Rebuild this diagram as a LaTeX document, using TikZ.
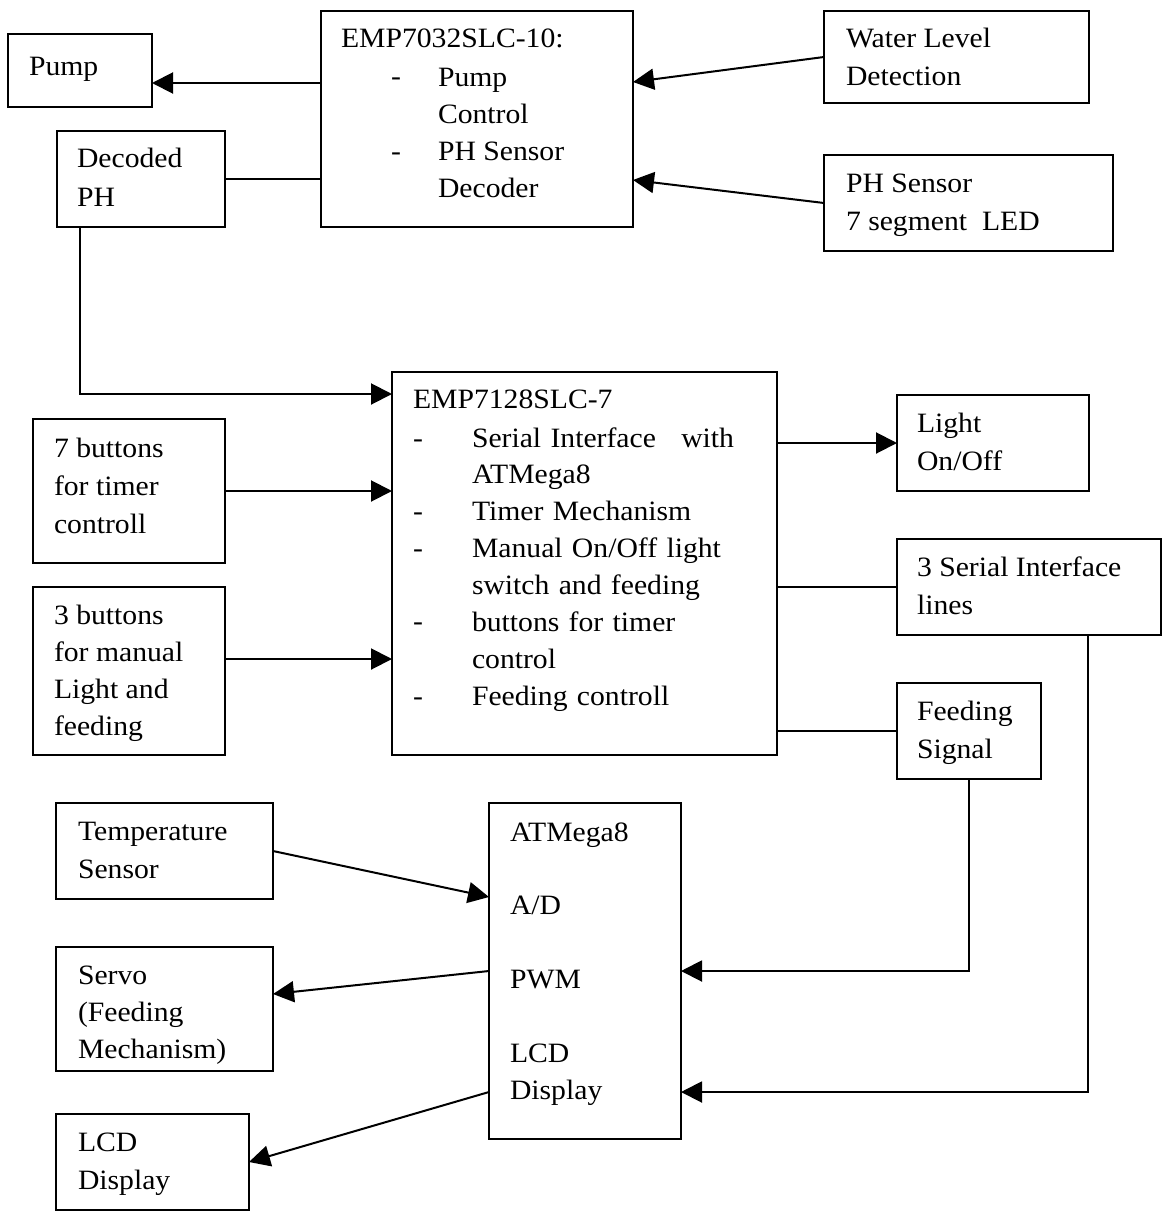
\documentclass[tikz,border=0pt]{standalone}
\usepackage{fontspec}
\setmainfont{Liberation Serif}[FakeStretch=1.06]
\usetikzlibrary{arrows.meta,calc}
\tikzset{
  box/.style={draw, line width=2pt, anchor=north west, inner sep=0pt, outer sep=0pt},
  txt/.style={anchor=base west, inner sep=0pt, outer sep=0pt, align=left, font=\fontsize{28}{37.3}\selectfont},
  conn/.style={line width=2pt},
  arr/.style={conn, -{Triangle[length=21pt,width=21pt]}},
}
\newcommand\mkbox[5]{\node[box, minimum width={(#4)-(#2)}, minimum height={(#5)-(#3)}] (#1) at (#2,#3) {};}
\begin{document}
\begin{tikzpicture}[x=1pt,y=-1pt]
\useasboundingbox[fill=white] (0,0) rectangle (1164,1212);
% boxes
\mkbox{pump}{8}{34}{152}{107}
\mkbox{emp1}{321}{11}{633}{227}
\mkbox{dph}{57}{131}{225}{227}
\mkbox{wl}{824}{11}{1089}{103}
\mkbox{phs}{824}{155}{1113}{251}
\mkbox{emp2}{392}{372}{777}{755}
\mkbox{light}{897}{395}{1089}{491}
\mkbox{b7}{33}{419}{225}{563}
\mkbox{b3}{33}{587}{225}{755}
\mkbox{ser}{897}{539}{1161}{635}
\mkbox{feed}{897}{683}{1041}{779}
\mkbox{temp}{56}{803}{273}{899}
\mkbox{atm}{489}{803}{681}{1139}
\mkbox{servo}{56}{947}{273}{1071}
\mkbox{lcd}{56}{1114}{249}{1210}
% texts (multi-line nodes are anchored at the baseline of their last line)
\node[txt] (tpump) at (29,76) {Pump};
\node[txt] (temp1) at (341,48) {EMP7032SLC-10:};
\node[txt] (d1a) at (391,86) {-};
\node[txt] (d1b) at (391,160) {-};
\node[txt, font=\fontsize{28}{37}\selectfont] (i1) at (438,197) {Pump\\Control\\PH Sensor\\Decoder};
\node[txt, font=\fontsize{28}{39}\selectfont] (tdph) at (77,206) {Decoded\\PH};
\node[txt, font=\fontsize{28}{38}\selectfont] (twl) at (846,86) {Water Level\\Detection};
\node[txt, font=\fontsize{28}{38}\selectfont] (tphs) at (846,230) {PH Sensor\\7 segment~~LED};
\node[txt] (temp2) at (413,408) {EMP7128SLC-7};
\node[txt] (d2a) at (413,447) {-};
\node[txt] (d2b) at (413,520) {-};
\node[txt] (d2c) at (413,557) {-};
\node[txt] (d2d) at (413,630) {-};
\node[txt] (d2e) at (413,705) {-};
\node[txt, text width=262pt, font=\fontsize{28}{36.9}\selectfont] (i2) at (472,447) {Serial Interface\hfill with\\ATMega8\\Timer Mechanism\\Manual On/Off light\\switch and feeding\\buttons for timer\\control\\Feeding controll};
\node[txt, font=\fontsize{28}{38}\selectfont] (t7) at (54,533) {7 buttons\\for timer\\controll};
\node[txt, font=\fontsize{28}{36.7}\selectfont] (t3) at (54,735) {3 buttons\\for manual\\Light and\\feeding};
\node[txt] (tlight) at (917,470) {Light\\On/Off};
\node[txt, font=\fontsize{28}{38}\selectfont] (tser) at (917,614) {3 Serial Interface\\lines};
\node[txt] (tfeed) at (917,758) {Feeding\\Signal};
\node[txt] (ttemp) at (78,878) {Temperature\\Sensor};
\node[txt, font=\fontsize{28}{37}\selectfont] (tatm) at (510,1099) {ATMega8\\[36pt]A/D\\[37pt]PWM\\[37pt]LCD\\Display};
\node[txt, font=\fontsize{28}{37}\selectfont] (tservo) at (78,1058) {Servo\\(Feeding\\Mechanism)};
\node[txt] (tlcd) at (78,1189) {LCD\\Display};
% connectors
\coordinate (pA) at ($(pump.east)+(0,12.5)$);
\draw[arr] (pA -| emp1.west) -- (pA);
\draw[conn] (dph.east) -- (dph.east -| emp1.west);
\coordinate (wA) at ($(emp1.east)+(0,-37)$);
\draw[arr] (wl.west) -- (wA);
\coordinate (phA) at ($(emp1.east)+(0,61)$);
\draw[arr] (phs.west) -- (phA);
\coordinate (dA) at ($(dph.south)+(-61,0)$);
\coordinate (e2A) at ($(emp2.west)+(0,-169.5)$);
\draw[arr] (dA) |- (e2A);
\draw[arr] (b7.east) -- (b7.east -| emp2.west);
\coordinate (b3A) at ($(b3.east)+(0,-12)$);
\draw[arr] (b3A) -- (b3A -| emp2.west);
\draw[arr] (light.west -| emp2.east) -- (light.west);
\draw[conn] (ser.west -| emp2.east) -- (ser.west);
\draw[conn] (feed.west -| emp2.east) -- (feed.west);
\draw[arr] (feed.south) |- (atm.east);
\coordinate (sA) at ($(ser.south)+(59,0)$);
\coordinate (aLCD) at ($(atm.east)+(0,121)$);
\draw[arr] (sA) |- (aLCD);
\coordinate (aAD) at ($(atm.west)+(0,-74)$);
\draw[arr] (temp.east) -- (aAD);
\coordinate (svA) at ($(servo.east)+(0,-15)$);
\draw[arr] (atm.west) -- (svA);
\coordinate (aLW) at ($(atm.west)+(0,121)$);
\draw[arr] (aLW) -- (lcd.east);
\end{tikzpicture}
\end{document}
